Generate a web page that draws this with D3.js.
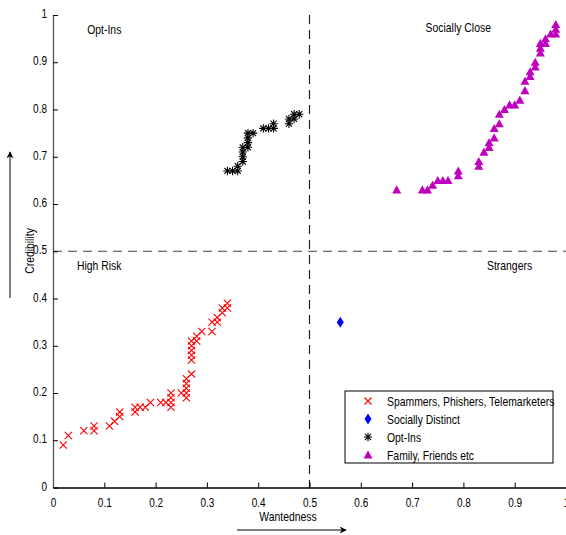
<!DOCTYPE html>
<html><head><meta charset="utf-8">
<script src="https://cdn.jsdelivr.net/npm/d3@7"></script>
<style>body{margin:0;background:#fff}svg{display:block}text{font-family:"Liberation Sans",Arial,sans-serif;}</style>
</head><body>
<script>
const ticks = [0,0.1,0.2,0.3,0.4,0.5,0.6,0.7,0.8,0.9,1];
const tickLabels = ["0","0.1","0.2","0.3","0.4","0.5","0.6","0.7","0.8","0.9","1"];
const redX = [0.02,0.03,0.06,0.08,0.08,0.11,0.12,0.13,0.13,0.16,0.16,0.17,0.18,0.19,0.21,0.22,0.23,0.23,0.23,0.23,0.25,0.26,0.26,0.26,0.26,0.26,0.27,0.27,0.27,0.27,0.27,0.27,0.28,0.28,0.29,0.31,0.31,0.32,0.32,0.33,0.33,0.34,0.34];
const redY = [0.09,0.11,0.12,0.13,0.12,0.13,0.14,0.15,0.16,0.17,0.16,0.17,0.17,0.18,0.18,0.18,0.18,0.19,0.20,0.17,0.20,0.20,0.21,0.22,0.23,0.19,0.24,0.27,0.28,0.29,0.30,0.31,0.31,0.32,0.33,0.33,0.35,0.35,0.36,0.37,0.38,0.38,0.39];
const blueX = [0.56];
const blueY = [0.35];
const blackX = [0.34,0.35,0.36,0.36,0.37,0.37,0.37,0.37,0.38,0.38,0.38,0.38,0.39,0.41,0.42,0.43,0.43,0.46,0.46,0.47,0.47,0.48];
const blackY = [0.67,0.67,0.67,0.68,0.69,0.70,0.71,0.72,0.72,0.73,0.74,0.75,0.75,0.76,0.76,0.76,0.77,0.77,0.78,0.78,0.79,0.79];
const magX = [0.67,0.72,0.73,0.74,0.75,0.76,0.77,0.79,0.79,0.83,0.83,0.84,0.85,0.85,0.86,0.86,0.87,0.87,0.88,0.89,0.90,0.91,0.92,0.92,0.93,0.93,0.94,0.94,0.95,0.95,0.95,0.96,0.96,0.97,0.98,0.98,0.98];
const magY = [0.63,0.63,0.63,0.64,0.65,0.65,0.65,0.66,0.67,0.68,0.69,0.71,0.72,0.73,0.74,0.76,0.77,0.79,0.80,0.81,0.81,0.82,0.84,0.86,0.87,0.88,0.89,0.90,0.92,0.93,0.94,0.94,0.95,0.96,0.96,0.97,0.98];
const legendLabels = ["Spammers, Phishers, Telemarketers","Socially Distinct","Opt-Ins","Family, Friends etc"];
const quadrantLabels = ["Opt-Ins","Socially Close","High Risk","Strangers"];
const xTitle = "Wantedness", yTitle = "Credibility";

const W=566,H=535;
const svg=d3.select("body").append("svg").attr("width",W).attr("height",H);
const x=d3.scaleLinear().domain([0,1]).range([53,566]);
const y=d3.scaleLinear().domain([0,1]).range([487.5,15]);

// dashed quadrant lines
svg.append("line").attr("x1",x(0)).attr("x2",x(1)).attr("y1",y(0.5)).attr("y2",y(0.5))
  .attr("stroke","#444").attr("stroke-width",1.2).attr("stroke-dasharray","9,6");
svg.append("line").attr("x1",x(0.5)).attr("x2",x(0.5)).attr("y1",y(1)).attr("y2",y(0))
  .attr("stroke","#222").attr("stroke-width",1.2).attr("stroke-dasharray","9,6");

// axes
const xa=svg.append("g").attr("transform",`translate(0,${y(0)})`)
  .call(d3.axisBottom(x).tickValues(ticks).tickFormat((d,i)=>tickLabels[i]).tickSizeInner(-5).tickSizeOuter(0).tickPadding(8));
const ya=svg.append("g").attr("transform",`translate(${x(0)},0)`)
  .call(d3.axisLeft(y).tickValues(ticks).tickFormat((d,i)=>tickLabels[i]).tickSizeInner(-5).tickSizeOuter(0).tickPadding(6));
[xa,ya].forEach(g=>{g.selectAll("text").attr("font-size",12.5).attr("fill","#000")
  .attr("font-family",'"Liberation Sans",Arial,sans-serif');
  g.selectAll("line").attr("stroke","#000");});
xa.select(".domain").attr("stroke","#000").attr("stroke-width",1.3);
ya.select(".domain").attr("stroke","#555").attr("stroke-width",1.3);
xa.selectAll(".tick text").attr("dy","0.9em");
ya.selectAll(".tick text").attr("dy","0.2em");

// quadrant labels
const ql=[[0.1,0.96],[0.79,0.965],[0.09,0.46],[0.89,0.46]];
quadrantLabels.forEach((t,i)=>svg.append("text").attr("x",x(ql[i][0])).attr("y",y(ql[i][1])).attr("text-anchor","middle")
  .attr("font-size",13).text(t));

// markers
const g=svg.append("g");
redX.forEach((v,i)=>{const cx=x(v),cy=y(redY[i]),s=3.6;
  g.append("path").attr("d",`M${cx-s},${cy-s}L${cx+s},${cy+s}M${cx-s},${cy+s}L${cx+s},${cy-s}`)
   .attr("stroke","#ff0000").attr("stroke-width",1.1).attr("fill","none");});
const star=(cx,cy,s)=>`M${cx-s},${cy}L${cx+s},${cy}M${cx},${cy-s}L${cx},${cy+s}M${cx-s*0.72},${cy-s*0.72}L${cx+s*0.72},${cy+s*0.72}M${cx-s*0.72},${cy+s*0.72}L${cx+s*0.72},${cy-s*0.72}`;
blackX.forEach((v,i)=>{g.append("path").attr("d",star(x(v),y(blackY[i]),4.2))
   .attr("stroke","#000").attr("stroke-width",1.1).attr("fill","none");});
const tri=(cx,cy,s)=>`M${cx},${cy-s}L${cx+s},${cy+s*0.8}L${cx-s},${cy+s*0.8}Z`;
magX.forEach((v,i)=>{g.append("path").attr("d",tri(x(v),y(magY[i]),4.5)).attr("fill","#bf00bf");});
const dia=(cx,cy,w,h)=>`M${cx},${cy-h}L${cx+w},${cy}L${cx},${cy+h}L${cx-w},${cy}Z`;
blueX.forEach((v,i)=>{g.append("path").attr("d",dia(x(v),y(blueY[i]),3.5,5.5)).attr("fill","#0000ff");});

// legend
const lg=svg.append("g");
lg.append("rect").attr("x",345).attr("y",391).attr("width",208).attr("height",72).attr("fill","#fff").attr("stroke","#000").attr("stroke-width",1);
const ly=[401,419,437,455], mx=368;
lg.append("path").attr("d",`M${mx-3.5},${ly[0]-3.5}L${mx+3.5},${ly[0]+3.5}M${mx-3.5},${ly[0]+3.5}L${mx+3.5},${ly[0]-3.5}`).attr("stroke","#f00").attr("stroke-width",1.1);
lg.append("path").attr("d",dia(mx,ly[1],3.5,5.5)).attr("fill","#00f");
lg.append("path").attr("d",star(mx,ly[2],4.2)).attr("stroke","#000").attr("stroke-width",1.1);
lg.append("path").attr("d",tri(mx,ly[3],4.5)).attr("fill","#bf00bf");
legendLabels.forEach((t,i)=>lg.append("text").attr("x",387).attr("y",ly[i]+4.5).attr("font-size",13).text(t));

// axis titles with arrows
svg.append("defs").append("marker").attr("id","ah").attr("viewBox","0 0 10 10").attr("refX",9).attr("refY",5)
  .attr("markerWidth",9).attr("markerHeight",7).attr("markerUnits","userSpaceOnUse").attr("orient","auto")
  .append("path").attr("d","M0,0L10,5L0,10L3,5Z").attr("fill","#000");
svg.append("text").attr("x",288).attr("y",521).attr("text-anchor","middle").attr("font-size",13).text(xTitle);
svg.append("line").attr("x1",237).attr("x2",346).attr("y1",530).attr("y2",530).attr("stroke","#000").attr("stroke-width",1).attr("marker-end","url(#ah)");
svg.append("text").attr("transform","translate(34,251) rotate(-90)").attr("text-anchor","middle").attr("font-size",13).text(yTitle);
svg.append("line").attr("x1",10).attr("x2",10).attr("y1",298).attr("y2",152).attr("stroke","#000").attr("stroke-width",1).attr("marker-end","url(#ah)");

// condense all text (reference uses a narrow Helvetica)
svg.selectAll("text").each(function(){
  const w=this.getComputedTextLength();
  if(w>0) d3.select(this).attr("textLength",w*0.8).attr("lengthAdjust","spacingAndGlyphs");
});
</script>
</body></html>
